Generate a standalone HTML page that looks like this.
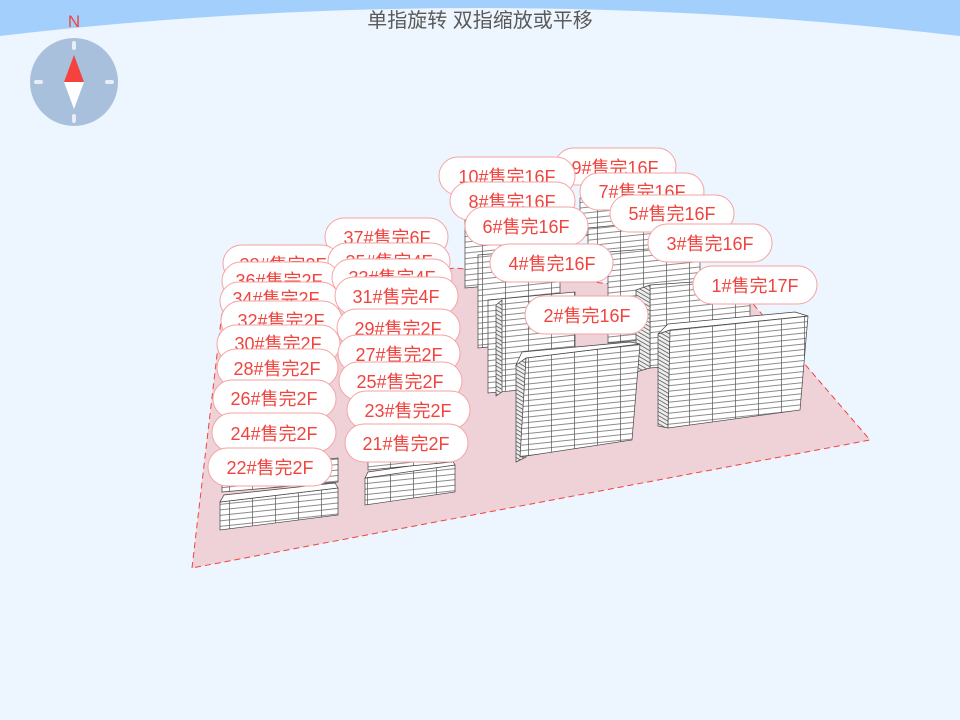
<!DOCTYPE html>
<html><head><meta charset="utf-8"><style>
html,body{margin:0;padding:0;width:960px;height:720px;overflow:hidden;background:#edf5fe;}
svg{display:block}
.t{font-family:"Liberation Sans","Noto Sans CJK SC",sans-serif;font-size:18px;fill:#f0443f;stroke:none;text-anchor:middle;}
</style></head><body>
<svg width="960" height="720" viewBox="0 0 960 720" xmlns="http://www.w3.org/2000/svg">
<defs>
<pattern id="fl" width="23" height="5.5" patternUnits="userSpaceOnUse" patternTransform="skewY(-6)">
<rect width="23" height="5.5" fill="#fff"/>
<line x1="0" y1="5" x2="23" y2="5" stroke="#666" stroke-width="0.8"/>
<line x1="22.5" y1="0" x2="22.5" y2="5.5" stroke="#555" stroke-width="0.7"/>
</pattern>
<pattern id="sd" width="6" height="4" patternUnits="userSpaceOnUse" patternTransform="skewY(30)">
<rect width="6" height="4" fill="#eee"/>
<line x1="0" y1="3.5" x2="6" y2="3.5" stroke="#444" stroke-width="0.8"/>
</pattern>
</defs>
<path d="M0,36 Q480,-20 960,36 L960,0 L0,0Z" fill="#a3cffd"/>
<text x="480" y="27" style="font-family:'Liberation Sans','Noto Sans CJK SC',sans-serif;font-size:20px;fill:#5a5a5a;text-anchor:middle">单指旋转 双指缩放或平移</text>
<text x="74" y="27" style="font-family:'Liberation Sans',sans-serif;font-size:17px;fill:#f0443f;text-anchor:middle">N</text>
<circle cx="74" cy="82" r="44" fill="#a9c0dd"/>
<g stroke="#e8eef6" stroke-width="4" stroke-linecap="round">
<line x1="74" y1="43" x2="74" y2="48"/><line x1="74" y1="116" x2="74" y2="121"/>
<line x1="36" y1="82" x2="41" y2="82"/><line x1="107" y1="82" x2="112" y2="82"/></g>
<polygon points="74,55 84,82 64,82" fill="#f5423e"/>
<polygon points="74,109 84,82 64,82" fill="#fff"/>
<polygon points="192,568 224,295 455,268 748,298 870,440" fill="#efd1d8" stroke="#f0443f" stroke-dasharray="6,4" stroke-width="1"/>
<g stroke="#444" stroke-width="0.7">
<polygon points="465,218 500,215 500,285 465,288" fill="url(#fl)"/>
<polygon points="580,198 640,192 640,230 580,236" fill="url(#fl)"/>
<polygon points="588,228 690,218 690,262 588,272" fill="url(#fl)"/>
<polygon points="478,255 560,248 560,340 478,348" fill="url(#fl)"/>
<polygon points="608,252 700,245 700,335 608,343" fill="url(#fl)"/>
<polygon points="488,300 575,292 575,385 488,393" fill="url(#fl)"/>
<polygon points="650,285 750,278 750,360 650,368" fill="url(#fl)"/>
<polygon points="496,305 502,300 502,392 496,396" fill="url(#sd)"/>
<polygon points="636,290 650,285 650,368 636,372" fill="url(#sd)"/>
<polygon points="516,365 526,358 526,457 516,462" fill="url(#sd)"/>
<polygon points="526,358 640,344 632,440 520,457" fill="url(#fl)"/>
<polygon points="516,365 526,358 640,344 630,342 522,352" fill="#fff"/>
<polygon points="658,334 670,330 668,428 658,426" fill="url(#sd)"/>
<polygon points="670,330 808,316 800,410 668,428" fill="url(#fl)"/>
<polygon points="658,334 670,330 808,316 795,312 668,324" fill="#fff"/>
<polygon points="220,502 338,488 338,515 220,530" fill="url(#fl)"/>
<polygon points="220,502 338,488 335,483 224,495" fill="#fff"/>
<polygon points="222,470 338,458 338,482 222,492" fill="url(#fl)"/>
<polygon points="365,478 455,465 455,492 365,505" fill="url(#fl)"/>
<polygon points="365,478 455,465 452,460 368,472" fill="#fff"/>
<polygon points="368,448 452,438 452,462 368,470" fill="url(#fl)"/>
</g>
<g stroke="#f6a3a3" stroke-width="1" fill="#fff">
<rect x="555" y="148" width="121" height="37" rx="18.5"/><text class="t" x="615" y="174">9#售完16F</text>
<rect x="439" y="157" width="136" height="38" rx="19"/><text class="t" x="507" y="183">10#售完16F</text>
<rect x="580" y="173" width="124" height="37" rx="18.5"/><text class="t" x="642" y="198">7#售完16F</text>
<rect x="450" y="182" width="125" height="38" rx="19"/><text class="t" x="512" y="208">8#售完16F</text>
<rect x="610" y="195" width="124" height="37" rx="18.5"/><text class="t" x="672" y="220">5#售完16F</text>
<rect x="465" y="207" width="123" height="38" rx="19"/><text class="t" x="526" y="233">6#售完16F</text>
<rect x="648" y="224" width="124" height="38" rx="19"/><text class="t" x="710" y="250">3#售完16F</text>
<rect x="490" y="244" width="123" height="38" rx="19"/><text class="t" x="552" y="270">4#售完16F</text>
<rect x="693" y="266" width="124" height="38" rx="19"/><text class="t" x="755" y="292">1#售完17F</text>
<rect x="525" y="296" width="123" height="38" rx="19"/><text class="t" x="587" y="322">2#售完16F</text>
<rect x="325" y="218" width="123" height="38" rx="19"/><text class="t" x="387" y="244">37#售完6F</text>
<rect x="223" y="245" width="117" height="37" rx="18.5"/><text class="t" x="283" y="271">38#售完2F</text>
<rect x="328" y="243" width="122" height="37" rx="18.5"/><text class="t" x="389" y="268">35#售完4F</text>
<rect x="222" y="262" width="118" height="38" rx="19"/><text class="t" x="279" y="287">36#售完2F</text>
<rect x="332" y="259" width="120" height="37" rx="18.5"/><text class="t" x="392" y="284">33#售完4F</text>
<rect x="220" y="282" width="120" height="38" rx="19"/><text class="t" x="276" y="305">34#售完2F</text>
<rect x="335" y="277" width="123" height="38" rx="19"/><text class="t" x="396" y="303">31#售完4F</text>
<rect x="221" y="301" width="121" height="39" rx="19.5"/><text class="t" x="281" y="327">32#售完2F</text>
<rect x="337" y="309" width="123" height="38" rx="19"/><text class="t" x="398" y="335">29#售完2F</text>
<rect x="217" y="325" width="123" height="38" rx="19"/><text class="t" x="278" y="350">30#售完2F</text>
<rect x="338" y="335" width="122" height="37" rx="18.5"/><text class="t" x="399" y="361">27#售完2F</text>
<rect x="217" y="349" width="121" height="38" rx="19"/><text class="t" x="277" y="375">28#售完2F</text>
<rect x="339" y="362" width="123" height="38" rx="19"/><text class="t" x="400" y="388">25#售完2F</text>
<rect x="213" y="380" width="123" height="38" rx="19"/><text class="t" x="274" y="405">26#售完2F</text>
<rect x="347" y="391" width="123" height="38" rx="19"/><text class="t" x="408" y="417">23#售完2F</text>
<rect x="212" y="413" width="124" height="39" rx="19.5"/><text class="t" x="274" y="440">24#售完2F</text>
<rect x="345" y="424" width="123" height="38" rx="19"/><text class="t" x="406" y="450">21#售完2F</text>
<rect x="208" y="448" width="124" height="38" rx="19"/><text class="t" x="270" y="474">22#售完2F</text>
</g>
</svg>
</body></html>
